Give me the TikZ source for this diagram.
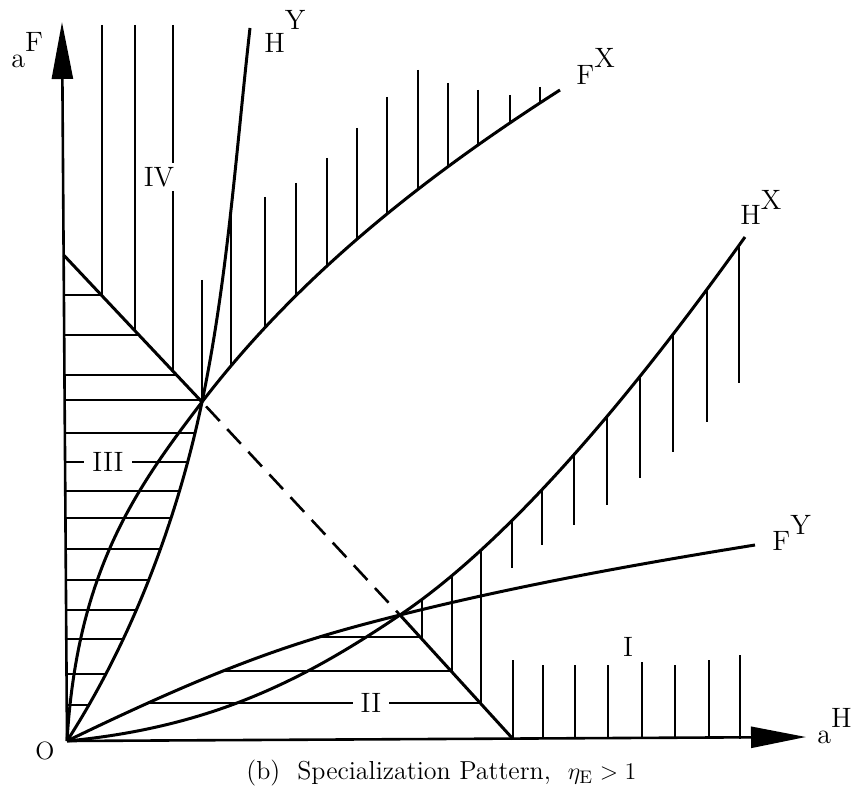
\documentclass[tikz,border=0pt]{standalone}
\usepackage{fontspec}
\usetikzlibrary{arrows.meta}
\begin{document}
\begin{tikzpicture}[x=0.5pt,y=-0.5pt,
  curve/.style={line width=1.5pt, line join=round},
  hatch/.style={line width=0.85pt},
  axis/.style={line width=1.3pt},
  lab/.style={font=\fontsize{14}{16}\selectfont, inner sep=0pt},
  numlab/.style={font=\fontsize{14}{16}\selectfont, fill=white, inner xsep=4pt, inner ysep=2pt},
  dashline/.style={line width=1.3pt, dash pattern=on 10pt off 5.5pt, dash phase=12.5pt}]
\useasboundingbox (0,0) rectangle (856,806);
% key points
\coordinate (O) at (67,741);
\coordinate (Ytip) at (62,22);
\coordinate (Xtip) at (806,737);
\coordinate (Ftop) at (63.6,255);
\coordinate (Dfoot) at (513,739);
\coordinate (A) at (202,402);
\coordinate (B) at (400,615);
\coordinate (HYend) at (250,28);
\coordinate (FXend) at (560,90);
\coordinate (HXend) at (745,237);
\coordinate (FYend) at (755,545);
\newcommand\pathHY{(O) .. controls (132,640) and (177.4,519.5) .. (A) .. controls (227.6,279.6) and (236,152) .. (HYend)}
\newcommand\pathFX{(O) .. controls (77.2,571) and (135.2,489.3) .. (A) .. controls (299.1,275) and (425.3,176.2) .. (FXend)}
\newcommand\pathFY{(O) .. controls (230,662) and (303,639.3) .. (B) .. controls (516.4,585.8) and (636.6,564.1) .. (FYend)}
\newcommand\pathHX{(O) .. controls (216.4,726.9) and (308.7,676.4) .. (B) .. controls (524.5,531.3) and (657.9,359.1) .. (HXend)}
% region IV hatching
\begin{scope}
  \clip (Ftop) -- (A) -- (B) -- (Dfoot) -- (900,739) -- (900,0) -- (0,0) -- (0,255) -- cycle;
  \foreach \x in {102,135,173} \draw[hatch] (\x,25) -- (\x,600);
\end{scope}
% hatching above F^X
\begin{scope}
  \clip \pathFX -- (560,0) -- (0,0) -- cycle;
  \foreach \x/\t in {202/280,231/207,265/197,296/183,327/158,357/128,387/97,418/70,448/83,478/90,510/95,540/87}
    \draw[hatch] (\x,\t) -- (\x,500);
\end{scope}
% hatching below H^X
\begin{scope}
  \clip \pathHX -- (900,237) -- (900,760) -- (0,760) -- cycle;
  \clip (Ftop) -- (A) -- (B) -- (Dfoot) -- (900,739) -- (900,0) -- (0,0) -- (0,255) -- cycle;
  \foreach \x/\b in {422/720,452/720,481/720,512/568,542/545,574/525,607/505,640/478,673/452,707/422,739/383}
    \draw[hatch] (\x,200) -- (\x,\b);
\end{scope}
% region I hatching
\foreach \x/\t in {513/660,543/665,575/665,608/665,642/662,675/665,709/660,740/655}
  \draw[hatch] (\x,\t) -- (\x,738.5);
% region III hatching
\begin{scope}
  \clip \pathHY -- (Ytip) -- cycle;
  \clip (Ftop) -- (A) -- (B) -- (Dfoot) -- (0,900) -- (0,255) -- cycle;
  \foreach \y in {295,335,375,400,433,462,491,518,549,580,610,639,674,705}
    \draw[hatch] (0,\y) -- (300,\y);
\end{scope}
% region II hatching
\begin{scope}
  \clip \pathFY -- (900,545) -- (900,760) -- (0,760) -- cycle;
  \clip (Ftop) -- (A) -- (B) -- (Dfoot) -- (0,900) -- (0,255) -- cycle;
  \foreach \y in {637,671,703}
    \draw[hatch] (0,\y) -- (600,\y);
\end{scope}
% region labels
\node[numlab] (rIV) at (159,177) {IV};
\node[numlab] (rIII) at (108,462) {III};
\node[numlab] (rII) at (371,703) {II};
\node[numlab] (rI) at (628,647) {I};
% curves
\draw[curve] \pathHY;
\draw[curve] \pathFX;
\draw[curve] \pathFY;
\draw[curve] \pathHX;
% diagonal
\draw[curve] (Ftop) -- (A);
\draw[dashline] (A) -- (B);
\draw[curve] (B) -- (Dfoot);
% axes
\draw[axis,-{Triangle[length=28.5pt,width=10.5pt]}] (O) -- (Ytip);
\draw[axis,-{Triangle[length=27.5pt,width=10.5pt]}] (O) -- (Xtip);
% labels
\node[lab, anchor=base west] (aF) at (11,68) {a\raisebox{8pt}{F}};
\node[lab, anchor=base west] (HYlab) at (264,53) {H\raisebox{11.5pt}{Y}};
\node[lab, anchor=base west] (FXlab) at (576,85) {F\raisebox{8.5pt}{X}};
\node[lab, anchor=base west] (HXlab) at (740,225) {H\raisebox{7.5pt}{X}};
\node[lab, anchor=base west] (FYlab) at (772,550) {F\raisebox{7.5pt}{Y}};
\node[lab, anchor=base west] (aH) at (817,743) {a\raisebox{8pt}{H}};
\node[font=\fontsize{12.5}{14}\selectfont, inner sep=0pt] (Olab) at (45,751) {O};
\node[font=\fontsize{13}{15}\selectfont, inner sep=0pt, anchor=base west] (cap) at (246,779)
  {(b)\ \ Specialization Pattern,\ \ $\eta_{\mathrm{E}} > 1$};
\end{tikzpicture}
\end{document}
